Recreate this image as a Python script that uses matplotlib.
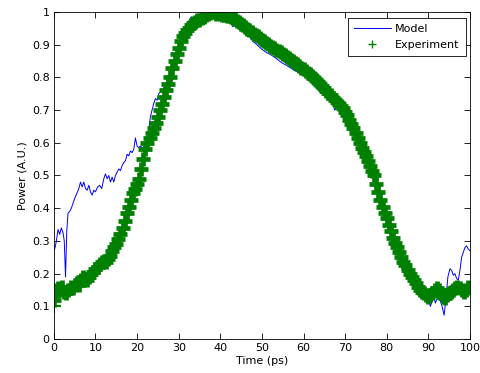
import matplotlib
import matplotlib.pyplot as plt
import numpy as np
from matplotlib.ticker import FuncFormatter

matplotlib.use("Agg")

# -----------------------------
# Data
# -----------------------------
# a few repeated samples sit on the y axis at t = 0
start_time = [0.0, 0.0, 0.0, 0.0]
start_power = [0.10, 0.115, 0.13, 0.145]

exp_time = np.arange(0, 100.5, 0.5)
exp_power = [
    0.12, 0.15, 0.155, 0.15, 0.16, 0.145, 0.14, 0.15, 0.16, 0.155,
    0.165, 0.17, 0.165, 0.18, 0.19, 0.185, 0.18, 0.19, 0.20, 0.205,
    0.215, 0.22, 0.23, 0.235, 0.24, 0.235, 0.245, 0.255, 0.27, 0.28,
    0.29, 0.305, 0.32, 0.34, 0.36, 0.385, 0.405, 0.425, 0.445, 0.46,
    0.475, 0.49, 0.52, 0.55, 0.58, 0.60, 0.615, 0.63, 0.645, 0.66,
    0.68, 0.70, 0.72, 0.74, 0.76, 0.78, 0.80, 0.83, 0.85, 0.87,
    0.89, 0.91, 0.925, 0.935, 0.945, 0.95, 0.96, 0.965, 0.97, 0.975,
    0.975, 0.98, 0.985, 0.99, 0.995, 0.998, 1.0, 1.0, 0.995, 0.998,
    0.995, 0.99, 0.99, 0.988, 0.987, 0.985, 0.98, 0.977, 0.973, 0.968,
    0.963, 0.959, 0.954, 0.949, 0.944, 0.939, 0.934, 0.929, 0.925, 0.920,
    0.915, 0.911, 0.906, 0.902, 0.897, 0.893, 0.889, 0.885, 0.881, 0.877,
    0.872, 0.868, 0.863, 0.859, 0.854, 0.849, 0.845, 0.840, 0.835, 0.830,
    0.825, 0.819, 0.814, 0.809, 0.803, 0.798, 0.792, 0.786, 0.780, 0.773,
    0.766, 0.759, 0.752, 0.745, 0.737, 0.731, 0.725, 0.719, 0.712, 0.705,
    0.695, 0.684, 0.670, 0.658, 0.645, 0.630, 0.615, 0.600, 0.585, 0.572,
    0.56, 0.545, 0.53, 0.515, 0.50, 0.475, 0.45, 0.425, 0.405, 0.385,
    0.37, 0.35, 0.33, 0.31, 0.295, 0.28, 0.265, 0.25, 0.235, 0.225,
    0.21, 0.20, 0.19, 0.18, 0.17, 0.16, 0.15, 0.145, 0.14, 0.135,
    0.13, 0.135, 0.14, 0.15, 0.155, 0.15, 0.14, 0.13, 0.125, 0.135,
    0.14, 0.145, 0.15, 0.155, 0.16, 0.155, 0.15, 0.145, 0.15, 0.16,
    0.155,
]

model_time = [
    0.0, 0.3, 0.6, 1.0, 1.4, 1.8, 2.2, 2.5, 2.8, 3.1, 3.4, 3.8, 4.2, 4.6,
    5.0, 5.5, 6.0, 6.4, 6.8, 7.2, 7.6, 8.0, 8.4, 8.8, 9.2, 9.6, 10.0, 10.5,
    11.0, 11.5, 12.0, 12.4, 12.8, 13.2, 13.6, 14.0, 14.4, 14.8, 15.2, 15.6,
    16.0, 16.4, 16.8, 17.2, 17.6, 18.0, 18.4, 18.8, 19.2, 19.6, 20.0, 20.4,
    20.8, 21.2, 21.6, 22.0, 22.4, 22.8, 23.2, 23.6, 24.0, 24.4, 24.8, 25.2,
    25.6, 26.0, 27.0, 28.0, 29.0, 30.0, 31.0, 32.0, 32.6, 33.0, 33.4, 33.8,
    34.4, 35.0, 35.6, 36.2, 37.0, 38.0, 39.0, 40.0, 41.0, 42.0, 42.6, 43.0,
    43.8, 44.6, 45.4, 46.2, 47.0, 47.9, 48.8, 49.6, 50.4, 51.2, 52.0, 53.0,
    54.0, 55.0, 56.0, 57.0, 58.0, 59.1, 60.3, 61.5, 62.4, 63.2, 64.0, 64.6,
    65.2, 66.0, 67.0, 67.5, 68.0, 69.0, 70.0, 72.0, 74.0, 76.0, 78.0, 80.0,
    82.0, 83.0, 84.0, 86.0, 88.0, 89.0, 89.6, 90.0, 90.5, 91.0, 91.3, 91.7,
    92.3, 92.8, 93.3, 93.8, 94.2, 94.7, 95.2, 95.6, 96.0, 96.4, 96.8, 97.2,
    97.6, 98.0, 98.4, 98.8, 99.2, 99.6, 100.0,
]
model_power = [
    0.27, 0.28, 0.30, 0.335, 0.32, 0.34, 0.325, 0.30, 0.19, 0.33, 0.385, 0.39, 0.40, 0.415,
    0.43, 0.445, 0.46, 0.48, 0.465, 0.48, 0.46, 0.455, 0.47, 0.45, 0.44, 0.455, 0.45, 0.465,
    0.47, 0.46, 0.49, 0.505, 0.49, 0.50, 0.48, 0.495, 0.48, 0.50, 0.51, 0.52,
    0.515, 0.53, 0.54, 0.545, 0.565, 0.56, 0.575, 0.57, 0.58, 0.615, 0.59, 0.585,
    0.59, 0.585, 0.58, 0.585, 0.60, 0.64, 0.68, 0.70, 0.72, 0.735, 0.73, 0.75,
    0.755, 0.76, 0.78, 0.81, 0.85, 0.89, 0.92, 0.955, 0.975, 0.985, 0.97, 0.96,
    0.97, 0.965, 0.96, 0.975, 0.985, 0.99, 0.99, 0.985, 0.98, 0.975, 0.965, 0.955,
    0.96, 0.95, 0.945, 0.935, 0.925, 0.909, 0.90, 0.89, 0.882, 0.875, 0.87, 0.862,
    0.852, 0.843, 0.836, 0.828, 0.82, 0.813, 0.803, 0.792, 0.78, 0.767, 0.755, 0.76,
    0.755, 0.745, 0.72, 0.70, 0.705, 0.70, 0.69, 0.64, 0.58, 0.525, 0.45, 0.37,
    0.30, 0.29, 0.235, 0.19, 0.15, 0.13, 0.11, 0.12, 0.10, 0.12, 0.13, 0.11,
    0.13, 0.12, 0.10, 0.073, 0.12, 0.19, 0.215, 0.21, 0.195, 0.20, 0.185, 0.18,
    0.21, 0.25, 0.265, 0.28, 0.285, 0.275, 0.27,
]

x_ticks = list(range(0, 101, 10))
y_ticks = [0, 0.1, 0.2, 0.3, 0.4, 0.5, 0.6, 0.7, 0.8, 0.9, 1.0]

# -----------------------------
# Plot
# -----------------------------
plt.rcParams["font.family"] = ["DejaVu Sans"]
plt.rcParams["font.size"] = 8

fig = plt.figure(figsize=(4.81, 3.73), dpi=100)
ax = fig.add_axes([0.112, 0.091, 0.865, 0.877])

green = "#008000"
ax.plot(model_time, model_power, color="#0000ff", linewidth=0.7, label="Model")
ax.plot(exp_time, exp_power, linestyle="none", marker="+", markersize=10,
        markeredgewidth=3.4, color=green, label="Experiment")
ax.plot(start_time, start_power, linestyle="none", marker="+", markersize=9.5,
        markeredgewidth=1.5, color=green)

ax.set_xlim(0, 100)
ax.set_ylim(0, 1)
ax.set_xticks(x_ticks)
ax.set_yticks(y_ticks)
ax.yaxis.set_major_formatter(FuncFormatter(lambda v, _: f"{v:g}"))
ax.tick_params(direction="in", length=4, width=0.6, top=True, right=True,
               labelsize=8, pad=3)
for spine in ax.spines.values():
    spine.set_linewidth(0.6)

ax.set_xlabel("Time (ps)", fontsize=8, labelpad=2)
ax.set_ylabel("Power (A.U.)", fontsize=8, labelpad=3)

leg = ax.legend(loc="upper right", bbox_to_anchor=(0.99, 0.982),
                borderaxespad=0, fontsize=8, fancybox=False, framealpha=1,
                edgecolor="black", handlelength=3.3, handletextpad=0.4,
                borderpad=0.55, labelspacing=0.55, markerscale=0.6)
leg.get_frame().set_linewidth(0.6)
leg.legend_handles[1].set_markeredgewidth(1.0)

fig.savefig("out.png", dpi=100)
